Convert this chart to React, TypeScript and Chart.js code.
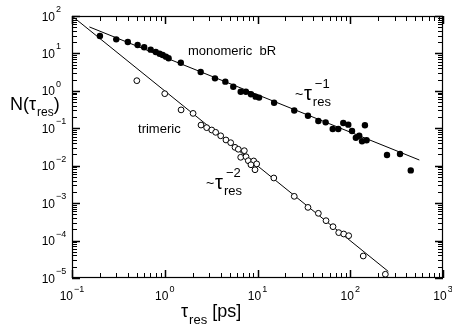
import React, { useEffect, useRef } from "react";
import { Chart, registerables } from "chart.js";
Chart.register(...registerables);

// monomeric bR (filled circles)
const monoTau = [0.2, 0.3, 0.4, 0.51, 0.6, 0.705, 0.8, 0.88, 0.95, 1.03, 1.1, 1.49, 2.44, 3.48, 4.5, 5.48, 6.59, 7.5, 8.5, 9.55, 10.4, 15.1, 24.9, 35, 45.3, 54.3, 64.7, 74.3, 84.1, 95.3, 104.5, 115, 125, 134, 144, 150, 249, 344, 449];
const monoN = [29.2, 23.8, 20.2, 16.8, 14.6, 12.6, 10.9, 9.8, 9.1, 8.2, 7.4, 5.65, 3.19, 2.16, 1.76, 1.29, 0.95, 0.95, 0.81, 0.7, 0.66, 0.48, 0.3, 0.217, 0.157, 0.144, 0.096, 0.096, 0.138, 0.125, 0.085, 0.056, 0.063, 0.045, 0.12, 0.048, 0.0193, 0.0206, 0.0075];

// trimeric (open circles)
const triTau = [0.5, 1.0, 1.5, 2.02, 2.46, 2.83, 3.21, 3.54, 4.01, 4.57, 5.14, 5.72, 6.21, 7.21, 6.59, 7.52, 7.96, 9.1, 8.5, 9.8, 9.4, 15.0, 24.9, 35, 45.3, 54.8, 65.2, 75.1, 85, 96.2, 138, 239];
const triN = [1.87, 0.84, 0.31, 0.25, 0.122, 0.104, 0.09, 0.078, 0.063, 0.0487, 0.0412, 0.031, 0.0275, 0.0252, 0.0168, 0.0174, 0.0136, 0.0134, 0.0106, 0.0112, 0.0078, 0.0047, 0.00152, 0.00077, 0.000535, 0.00034, 0.000235, 0.000163, 0.00015, 0.000135, 3.87e-5, 1.26e-5];

// power-law guide lines
const monoFitTau = [0.154, 556];
const monoFitN = [51, 0.0142];
const triFitTau = [0.1, 257];
const triFitN = [100, 1.5e-5];

// axes
const xMin = 0.1, xMax = 1000;
const yMin = 1e-5, yMax = 100;
const xTickExps = [-1, 0, 1, 2, 3];
const yTickExps = [-5, -4, -3, -2, -1, 0, 1, 2];

// text labels
const yTitleMain = "N(τ";
const yTitleSub = "res";
const yTitleEnd = ")";
const xTitleMain = "τ";
const xTitleSub = "res";
const xTitleEnd = " [ps]";
const monoLabel = "monomeric  bR";
const monoLabelAt = [1.78, 9.08];
const triLabel = "trimeric";
const triLabelAt = [0.515, 0.0748];
const slope1Sup = "−1";
const slope1At = [31.7, 0.57];
const slope2Sup = "−2";
const slope2At = [3.48, 0.00239];

const FONT = '"Liberation Sans", Arial, Helvetica, sans-serif';

function put(ctx: CanvasRenderingContext2D, s: string, x: number, y: number, size: number, align: CanvasTextAlign = "left") {
  ctx.font = `${size}px ${FONT}`;
  ctx.textAlign = align;
  ctx.textBaseline = "alphabetic";
  ctx.fillText(s, x, y);
  return ctx.measureText(s).width;
}
function meas(ctx: CanvasRenderingContext2D, s: string, size: number) {
  ctx.font = `${size}px ${FONT}`;
  return ctx.measureText(s).width;
}
function expText(e: number) {
  return e < 0 ? "−" + -e : String(e);
}

const decor = {
  id: "decor",
  afterDraw(chart: any) {
    const ctx: CanvasRenderingContext2D = chart.ctx;
    const { left, right, top, bottom } = chart.chartArea;
    const xs = chart.scales.x, ys = chart.scales.y;
    ctx.save();
    ctx.strokeStyle = "#000";
    ctx.fillStyle = "#000";
    ctx.lineWidth = 1.2;
    ctx.strokeRect(left + 0.5, top + 0.5, right - left - 1, bottom - top - 1);

    // ticks
    const e0x = xTickExps[0], e1x = xTickExps[xTickExps.length - 1];
    for (let e = e0x; e <= e1x; e++) {
      for (let m = 1; m <= 9; m++) {
        const v = m * Math.pow(10, e);
        if (v > xMax * 1.0001) break;
        const p = Math.round(xs.getPixelForValue(v)) + 0.5;
        const len = m === 1 ? 8 : 5;
        ctx.lineWidth = m === 1 ? 1.5 : 1;
        ctx.beginPath();
        ctx.moveTo(p, bottom); ctx.lineTo(p, bottom - len);
        ctx.moveTo(p, top); ctx.lineTo(p, top + len);
        ctx.stroke();
      }
    }
    const e0y = yTickExps[0], e1y = yTickExps[yTickExps.length - 1];
    for (let e = e0y; e <= e1y; e++) {
      for (let m = 1; m <= 9; m++) {
        const v = m * Math.pow(10, e);
        if (v > yMax * 1.0001) break;
        const p = Math.round(ys.getPixelForValue(v)) + 0.5;
        const len = m === 1 ? 8 : 5;
        ctx.lineWidth = m === 1 ? 1.5 : 1;
        ctx.beginPath();
        ctx.moveTo(left, p); ctx.lineTo(left + len, p);
        ctx.moveTo(right, p); ctx.lineTo(right - len, p);
        ctx.stroke();
      }
    }

    // y tick labels
    for (const e of yTickExps) {
      const py = ys.getPixelForValue(Math.pow(10, e));
      put(ctx, "10", left - 17, py + 4.5, 12, "right");
      put(ctx, expText(e), left - 16, py - 4, 9);
    }
    // x tick labels
    for (const e of xTickExps) {
      const px = xs.getPixelForValue(Math.pow(10, e));
      const w10 = meas(ctx, "10", 12);
      const we = meas(ctx, expText(e), 9);
      const start = px - (w10 + 1 + we) / 2;
      put(ctx, "10", start, bottom + 22, 12);
      put(ctx, expText(e), start + w10 + 1, bottom + 14, 9);
    }

    // axis titles
    let x = 10;
    x += put(ctx, yTitleMain, x, 110, 18);
    x += put(ctx, yTitleSub, x + 1, 116, 12) + 1;
    put(ctx, yTitleEnd, x, 110, 18);

    x = 181;
    x += put(ctx, xTitleMain, x, 317, 18);
    x += put(ctx, xTitleSub, x + 1, 324, 13) + 1;
    put(ctx, xTitleEnd, x, 317, 18);

    // annotations
    put(ctx, monoLabel, xs.getPixelForValue(monoLabelAt[0]), ys.getPixelForValue(monoLabelAt[1]), 13);
    put(ctx, triLabel, xs.getPixelForValue(triLabelAt[0]), ys.getPixelForValue(triLabelAt[1]), 13);

    const slope = (at: number[], sup: string) => {
      const ax = xs.getPixelForValue(at[0]);
      const ay = ys.getPixelForValue(at[1]);
      put(ctx, "~", ax - 9, ay - 1, 14);
      const wt = put(ctx, "τ", ax, ay, 20);
      put(ctx, "res", ax + wt + 1, ay + 6, 13);
      put(ctx, sup, ax + wt + 3, ay - 12, 13);
    };
    slope(slope1At, slope1Sup);
    slope(slope2At, slope2Sup);

    ctx.restore();
  },
};

export default function App() {
  const ref = useRef<HTMLCanvasElement | null>(null);
  useEffect(() => {
    if (!ref.current) return;
    const chart = new Chart(ref.current, {
      type: "scatter",
      data: {
        datasets: [
          {
            data: monoTau.map((t, i) => ({ x: t, y: monoN[i] })),
            pointStyle: "circle",
            pointRadius: 3.2,
            pointBackgroundColor: "#000",
            pointBorderColor: "#000",
            pointBorderWidth: 0,
            showLine: false,
          },
          {
            data: triTau.map((t, i) => ({ x: t, y: triN[i] })),
            pointStyle: "circle",
            pointRadius: 2.9,
            pointBackgroundColor: "#fff",
            pointBorderColor: "#000",
            pointBorderWidth: 1,
            showLine: false,
          },
          {
            data: monoFitTau.map((t, i) => ({ x: t, y: monoFitN[i] })),
            showLine: true,
            borderColor: "#000",
            borderWidth: 1,
            pointRadius: 0,
          },
          {
            data: triFitTau.map((t, i) => ({ x: t, y: triFitN[i] })),
            showLine: true,
            borderColor: "#000",
            borderWidth: 1,
            pointRadius: 0,
          },
        ],
      },
      options: {
        responsive: false,
        animation: false,
        events: [],
        layout: { padding: { left: 72, top: 16, right: 9, bottom: 50 } },
        plugins: { legend: { display: false }, tooltip: { enabled: false } },
        scales: {
          x: {
            type: "logarithmic",
            min: xMin,
            max: xMax,
            ticks: { display: false },
            grid: { display: false },
            border: { display: false },
            afterFit: (s: any) => { s.height = 0; },
          },
          y: {
            type: "logarithmic",
            min: yMin,
            max: yMax,
            ticks: { display: false },
            grid: { display: false },
            border: { display: false },
            afterFit: (s: any) => { s.width = 0; },
          },
        },
      },
      plugins: [decor],
    } as any);
    return () => chart.destroy();
  }, []);
  return (
    <div style={{ position: "absolute", left: 0, top: 0, width: 452, height: 328, background: "#fff" }}>
      <canvas ref={ref} width={452} height={328} style={{ display: "block" }} />
    </div>
  );
}
